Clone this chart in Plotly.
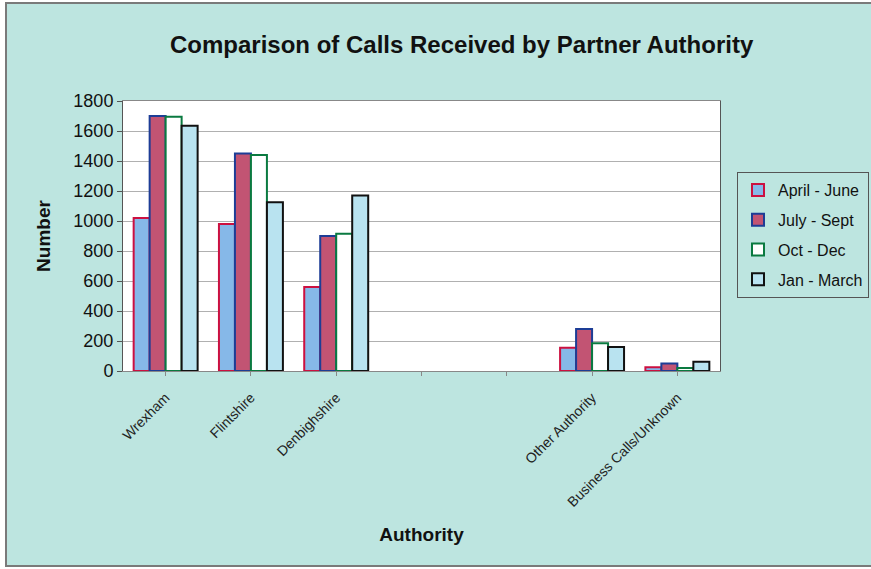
import plotly.graph_objects as go

categories = ["Wrexham", "Flintshire", "Denbighshire", " ", "  ", "Other Authority", "Business Calls/Unknown"]
series_names = ["April - June", "July - Sept", "Oct - Dec", "Jan - March"]
april_june = [1020, 980, 560, None, None, 155, 25]
july_sept = [1700, 1450, 900, None, None, 280, 50]
oct_dec = [1695, 1440, 915, None, None, 185, 20]
jan_march = [1635, 1125, 1170, None, None, 160, 62]
y_ticks = [0, 200, 400, 600, 800, 1000, 1200, 1400, 1600, 1800]

fills = ["#86b8e8", "#c25473", "#ffffff", "#b9e3f0"]
borders = ["#cc1040", "#1d3d96", "#0a7a40", "#111111"]

FONT = "Arial, Liberation Sans, sans-serif"
W, H = 871, 569
L, R, T, B = 123, 151, 101, 198
PW, PH = W - L - R, H - T - B

fig = go.Figure()
for name, vals, fc, lc in zip(series_names, [april_june, july_sept, oct_dec, jan_march], fills, borders):
    fig.add_trace(go.Bar(
        x=categories, y=vals, name=name, legendgroup=name,
        marker=dict(color=fc, line=dict(color=lc, width=2)),
    ))

fig.update_layout(
    width=W, height=H,
    paper_bgcolor="#ffffff",
    plot_bgcolor="#ffffff",
    barmode="group", bargap=0.25, bargroupgap=0,
    margin=dict(l=L, r=R, t=T, b=B, autoexpand=False),
    font=dict(family=FONT, color="#111111"),
    title=dict(text="<b>Comparison of Calls Received by Partner Authority</b>",
               x=0.53, xanchor="center", y=1 - 45 / H, yanchor="middle",
               font=dict(size=24, family=FONT, color="#111111")),
    legend=dict(x=(737 - L) / PW, xanchor="left", y=(H - B - 172) / PH, yanchor="top",
                bgcolor="rgba(0,0,0,0)", bordercolor="#555555", borderwidth=1,
                font=dict(size=16, family=FONT), itemwidth=30, tracegroupgap=6),
    showlegend=True,
    shapes=[
        dict(type="rect", xref="paper", yref="paper",
             x0=(6 - L) / PW, x1=(W + 10 - L) / PW, y0=-(B - 3) / PH, y1=1 + (T - 3) / PH,
             fillcolor="#bde5e0", line=dict(color="#7a7a7a", width=2), layer="below"),
        dict(type="rect", xref="x domain", yref="y domain",
             x0=0, x1=1, y0=0, y1=1,
             fillcolor="#ffffff", line=dict(width=0), layer="below"),
    ],
)

fig.update_xaxes(
    type="category", categoryorder="array", categoryarray=categories,
    tickangle=-45, tickfont=dict(size=14, family=FONT, color="#222222"),
    ticklabelstandoff=8,
    showline=True, linecolor="#888888", linewidth=1, mirror=True,
    ticks="outside", ticklen=4, tickcolor="#888888",
    title=dict(text="<b>Authority</b>", font=dict(size=19, family=FONT), standoff=18),
)
fig.update_yaxes(
    range=[0, 1800], tickvals=y_ticks,
    tickfont=dict(size=18, family=FONT),
    showgrid=True, gridcolor="#b0b0b0", gridwidth=1,
    showline=True, linecolor="#555555", linewidth=1, mirror=True,
    ticks="outside", ticklen=5, tickcolor="#555555",
    zeroline=False,
    title=dict(text="<b>Number</b>", font=dict(size=19, family=FONT), standoff=17),
)

fig.write_html("out.html", config={"displayModeBar": False},
               post_script="document.body.style.margin='0';document.body.style.overflow='hidden';")
